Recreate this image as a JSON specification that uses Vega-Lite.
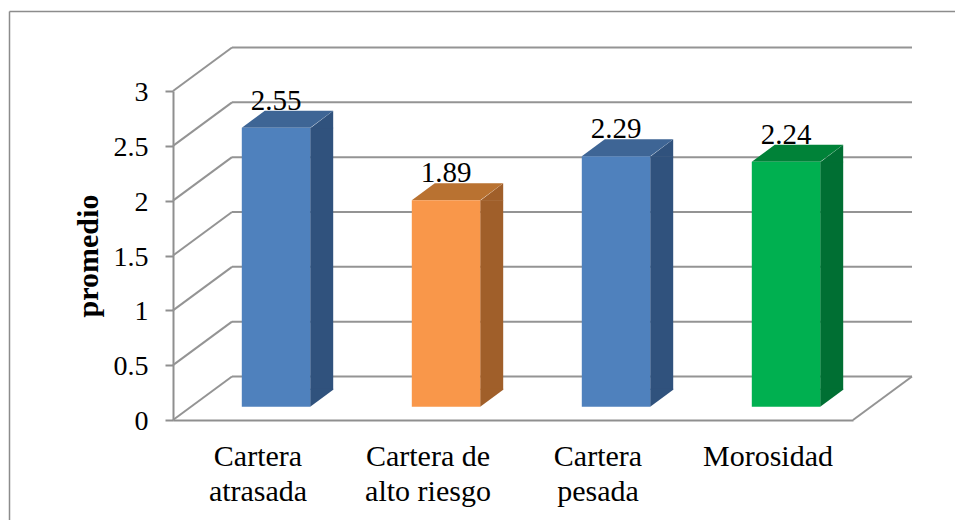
{
  "$schema": "https://vega.github.io/schema/vega-lite/v6.json",
  "width": 680,
  "height": 329,
  "autosize": {"type": "none"},
  "padding": {"left": 173, "top": 91, "right": 102, "bottom": 100},
  "background": "#ffffff",
  "config": {
    "view": {"stroke": null},
    "text": {"font": "Liberation Serif"},
    "axis": {"labelFont": "Liberation Serif", "titleFont": "Liberation Serif", "labelColor": "#000000", "titleColor": "#000000"}
  },
  "datasets": {
    "promedios": [
      {"categoria": "Cartera atrasada", "promedio": 2.55},
      {"categoria": "Cartera de alto riesgo", "promedio": 1.89},
      {"categoria": "Cartera pesada", "promedio": 2.29},
      {"categoria": "Morosidad", "promedio": 2.24}
    ],
    "escala": [
      {"nivel": 0}, {"nivel": 0.5}, {"nivel": 1}, {"nivel": 1.5}, {"nivel": 2}, {"nivel": 2.5}, {"nivel": 3}
    ]
  },
  "data": {"name": "promedios"},
  "encoding": {
    "x": {
      "field": "categoria",
      "type": "nominal",
      "sort": null,
      "scale": {"paddingInner": 0, "paddingOuter": 0},
      "axis": {
        "title": null,
        "labelAngle": 0,
        "labelFontSize": 30,
        "labelLineHeight": 35,
        "labelPadding": 21,
        "labelBaseline": "top",
        "labelLimit": 0,
        "ticks": false,
        "domainColor": "#8f8f8f",
        "domainWidth": 2,
        "labelExpr": "datum.label == 'Cartera de alto riesgo' ? ['Cartera de', 'alto riesgo'] : split(datum.label, ' ')"
      }
    }
  },
  "layer": [
    {
      "description": "Frame around the figure",
      "data": {"values": [{}]},
      "mark": {"type": "rule", "color": "#8c8c8c", "strokeWidth": 1.5},
      "encoding": {
        "x": {"value": -163.5},
        "y": {"value": -79.5},
        "y2": {"value": 429}
      }
    },
    {
      "data": {"values": [{}]},
      "mark": {"type": "rule", "color": "#8c8c8c", "strokeWidth": 1.5},
      "encoding": {
        "x": {"value": -163.5},
        "x2": {"value": 782},
        "y": {"value": -79.5}
      }
    },
    {
      "description": "Back wall gridlines",
      "data": {"name": "escala"},
      "mark": {"type": "rule", "color": "#949494", "strokeWidth": 2, "xOffset": 59, "x2Offset": 59, "yOffset": -43.5},
      "encoding": {
        "x": {"value": 0},
        "x2": {"value": 680},
        "y": {"field": "nivel", "type": "quantitative"}
      }
    },
    {
      "description": "Side wall gridlines running from the axis to the back wall",
      "data": {"name": "escala"},
      "mark": {"type": "point", "filled": false, "stroke": "#949494", "strokeWidth": 2, "opacity": 1, "size": 4, "shape": "M0,0L59,-43.5"},
      "encoding": {
        "x": {"value": 0},
        "y": {"field": "nivel", "type": "quantitative"}
      }
    },
    {
      "description": "Right edge of the floor",
      "data": {"values": [{"nivel": 0}]},
      "mark": {"type": "point", "filled": false, "stroke": "#949494", "strokeWidth": 2, "opacity": 1, "size": 4, "shape": "M0,0L59,-43.5"},
      "encoding": {
        "x": {"value": 680},
        "y": {"field": "nivel", "type": "quantitative"}
      }
    },
    {
      "description": "Bar side faces: body",
      "mark": {"type": "rect", "width": 23, "xOffset": 63.7, "yOffset": -12.6, "y2Offset": -30.3},
      "encoding": {
        "y": {"field": "promedio", "type": "quantitative"},
        "y2": {"datum": 0},
        "color": {
          "field": "categoria",
          "type": "nominal",
          "legend": null,
          "scale": {"domain": ["Cartera atrasada", "Cartera de alto riesgo", "Cartera pesada", "Morosidad"], "range": ["#30527d", "#a05f2a", "#30527d", "#006f33"]}
        }
      }
    },
    {
      "description": "Bar side faces: lower wedge at the floor, overlapping the body slightly",
      "mark": {"type": "point", "filled": true, "opacity": 1, "size": 4, "xOffset": 52.2, "yOffset": -13.3, "shape": "M0,0L0,-18L23,-18L23,-17Z"},
      "encoding": {
        "y": {"datum": 0},
        "color": {
          "field": "categoria",
          "type": "nominal",
          "legend": null,
          "scale": {"domain": ["Cartera atrasada", "Cartera de alto riesgo", "Cartera pesada", "Morosidad"], "range": ["#30527d", "#a05f2a", "#30527d", "#006f33"]}
        }
      }
    },
    {
      "description": "Bar side faces: upper wedge below the top face",
      "mark": {"type": "point", "filled": true, "opacity": 1, "size": 4, "xOffset": 52.2, "yOffset": -12.6, "shape": "M0,0.5L23,-17L23,0.5Z"},
      "encoding": {
        "y": {"field": "promedio", "type": "quantitative"},
        "color": {
          "field": "categoria",
          "type": "nominal",
          "legend": null,
          "scale": {"domain": ["Cartera atrasada", "Cartera de alto riesgo", "Cartera pesada", "Morosidad"], "range": ["#30527d", "#a05f2a", "#30527d", "#006f33"]}
        }
      }
    },
    {
      "description": "Bar top faces",
      "mark": {"type": "point", "filled": true, "opacity": 1, "size": 4, "xOffset": 18, "yOffset": -12.6, "shape": "M-34.2,0L34.2,0L57.2,-17L-11.2,-17Z"},
      "encoding": {
        "y": {"field": "promedio", "type": "quantitative"},
        "color": {
          "field": "categoria",
          "type": "nominal",
          "legend": null,
          "scale": {"domain": ["Cartera atrasada", "Cartera de alto riesgo", "Cartera pesada", "Morosidad"], "range": ["#3e6595", "#b97231", "#3e6595", "#008238"]}
        }
      }
    },
    {
      "description": "Bar front faces",
      "mark": {"type": "rect", "width": 68.4, "xOffset": 18, "yOffset": -12.6, "y2Offset": -13.3},
      "encoding": {
        "y": {
          "field": "promedio",
          "type": "quantitative",
          "scale": {"domain": [0, 3], "nice": false},
          "axis": {
            "title": "promedio",
            "titleFontSize": 30,
            "titleFontWeight": "bold",
            "titlePadding": 10,
            "labelFontSize": 28,
            "labelPadding": 17,
            "labelOffset": 1.5,
            "values": [0, 0.5, 1, 1.5, 2, 2.5, 3],
            "format": "~g",
            "grid": false,
            "tickSize": 8,
            "tickWidth": 2,
            "tickColor": "#8f8f8f",
            "domainColor": "#8f8f8f",
            "domainWidth": 2
          }
        },
        "y2": {"datum": 0},
        "color": {
          "field": "categoria",
          "type": "nominal",
          "legend": null,
          "scale": {"domain": ["Cartera atrasada", "Cartera de alto riesgo", "Cartera pesada", "Morosidad"], "range": ["#4f81bd", "#f9974a", "#4f81bd", "#00b050"]}
        }
      }
    },
    {
      "description": "Value labels",
      "mark": {"type": "text", "fontSize": 29, "color": "#000000", "baseline": "alphabetic", "xOffset": 18, "yOffset": -30.5},
      "encoding": {
        "y": {"field": "promedio", "type": "quantitative"},
        "text": {"field": "promedio", "type": "quantitative", "format": ".2f"}
      }
    }
  ],
  "resolve": {"scale": {"color": "independent"}}
}
